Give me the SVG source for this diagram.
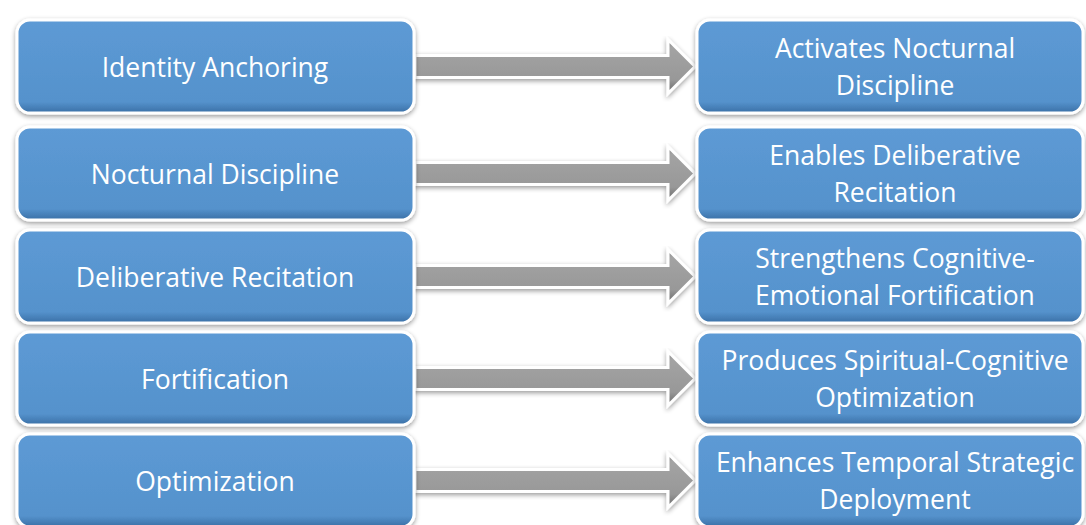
<svg xmlns="http://www.w3.org/2000/svg" width="1086" height="525" viewBox="0 0 1086 525">
<defs>
<linearGradient id="boxg" x1="0" y1="0" x2="0" y2="1">
<stop offset="0" stop-color="#5d9ad5"/>
<stop offset="0.88" stop-color="#5592cc"/>
<stop offset="1" stop-color="#3a6fa5"/>
</linearGradient>
<linearGradient id="arrg" x1="0" y1="0" x2="0" y2="1">
<stop offset="0" stop-color="#858585"/>
<stop offset="0.15" stop-color="#a3a3a3"/>
<stop offset="0.75" stop-color="#989898"/>
<stop offset="1" stop-color="#686868"/>
</linearGradient>
<filter id="sh" x="-5%" y="-10%" width="110%" height="125%">
<feGaussianBlur in="SourceAlpha" stdDeviation="2.5"/>
<feOffset dx="0" dy="2" result="b"/>
<feComponentTransfer><feFuncA type="linear" slope="0.4"/></feComponentTransfer>
<feMerge><feMergeNode/><feMergeNode in="SourceGraphic"/></feMerge>
</filter>
</defs>
<style>
.box{fill:url(#boxg);stroke:#ffffff;stroke-width:3;filter:url(#sh)}
.arr{fill:url(#arrg);stroke:#ffffff;stroke-width:3;stroke-linejoin:miter;filter:url(#sh)}
.t{fill:#ffffff;font-family:"Open Sans","Noto Sans","DejaVu Sans",sans-serif;font-size:26.5px;text-anchor:middle}
</style>
<rect width="1086" height="525" fill="#ffffff"/>
<g id="connectors">
<path class="arr" d="M415,55.5 H668 V39.5 L695,66.5 L668,93.5 V77.5 H415 Z"/>
<path class="arr" d="M415,162.5 H668 V146.5 L695,173.5 L668,200.5 V184.5 H415 Z"/>
<path class="arr" d="M415,265.5 H668 V249.5 L695,276.5 L668,303.5 V287.5 H415 Z"/>
<path class="arr" d="M415,367.5 H668 V351.5 L695,378.5 L668,405.5 V389.5 H415 Z"/>
<path class="arr" d="M415,469.5 H668 V453.5 L695,480.5 L668,507.5 V491.5 H415 Z"/>
</g>
<g id="n1"><rect class="box" x="17" y="20" width="397" height="93" rx="13"/><text class="t" x="215" y="77">Identity Anchoring</text></g>
<g id="n2"><rect class="box" x="17" y="127" width="397" height="93" rx="13"/><text class="t" x="215" y="184">Nocturnal Discipline</text></g>
<g id="n3"><rect class="box" x="17" y="230" width="397" height="93" rx="13"/><text class="t" x="215" y="287">Deliberative Recitation</text></g>
<g id="n4"><rect class="box" x="17" y="332" width="397" height="93" rx="13"/><text class="t" x="215" y="389">Fortification</text></g>
<g id="n5"><rect class="box" x="17" y="434" width="397" height="93" rx="13"/><text class="t" x="215" y="491">Optimization</text></g>
<g id="m1"><rect class="box" x="697" y="20" width="386" height="93" rx="13"/><text class="t" x="895" y="58">Activates Nocturnal</text><text class="t" x="895" y="95">Discipline</text></g>
<g id="m2"><rect class="box" x="697" y="127" width="386" height="93" rx="13"/><text class="t" x="895" y="165">Enables Deliberative</text><text class="t" x="895" y="202">Recitation</text></g>
<g id="m3"><rect class="box" x="697" y="230" width="386" height="93" rx="13"/><text class="t" x="895" y="268">Strengthens Cognitive-</text><text class="t" x="895" y="305">Emotional Fortification</text></g>
<g id="m4"><rect class="box" x="697" y="332" width="386" height="93" rx="13"/><text class="t" x="895" y="370">Produces Spiritual-Cognitive</text><text class="t" x="895" y="407">Optimization</text></g>
<g id="m5"><rect class="box" x="697" y="434" width="386" height="93" rx="13"/><text class="t" x="895" y="472">Enhances Temporal Strategic</text><text class="t" x="895" y="509">Deployment</text></g>
</svg>
